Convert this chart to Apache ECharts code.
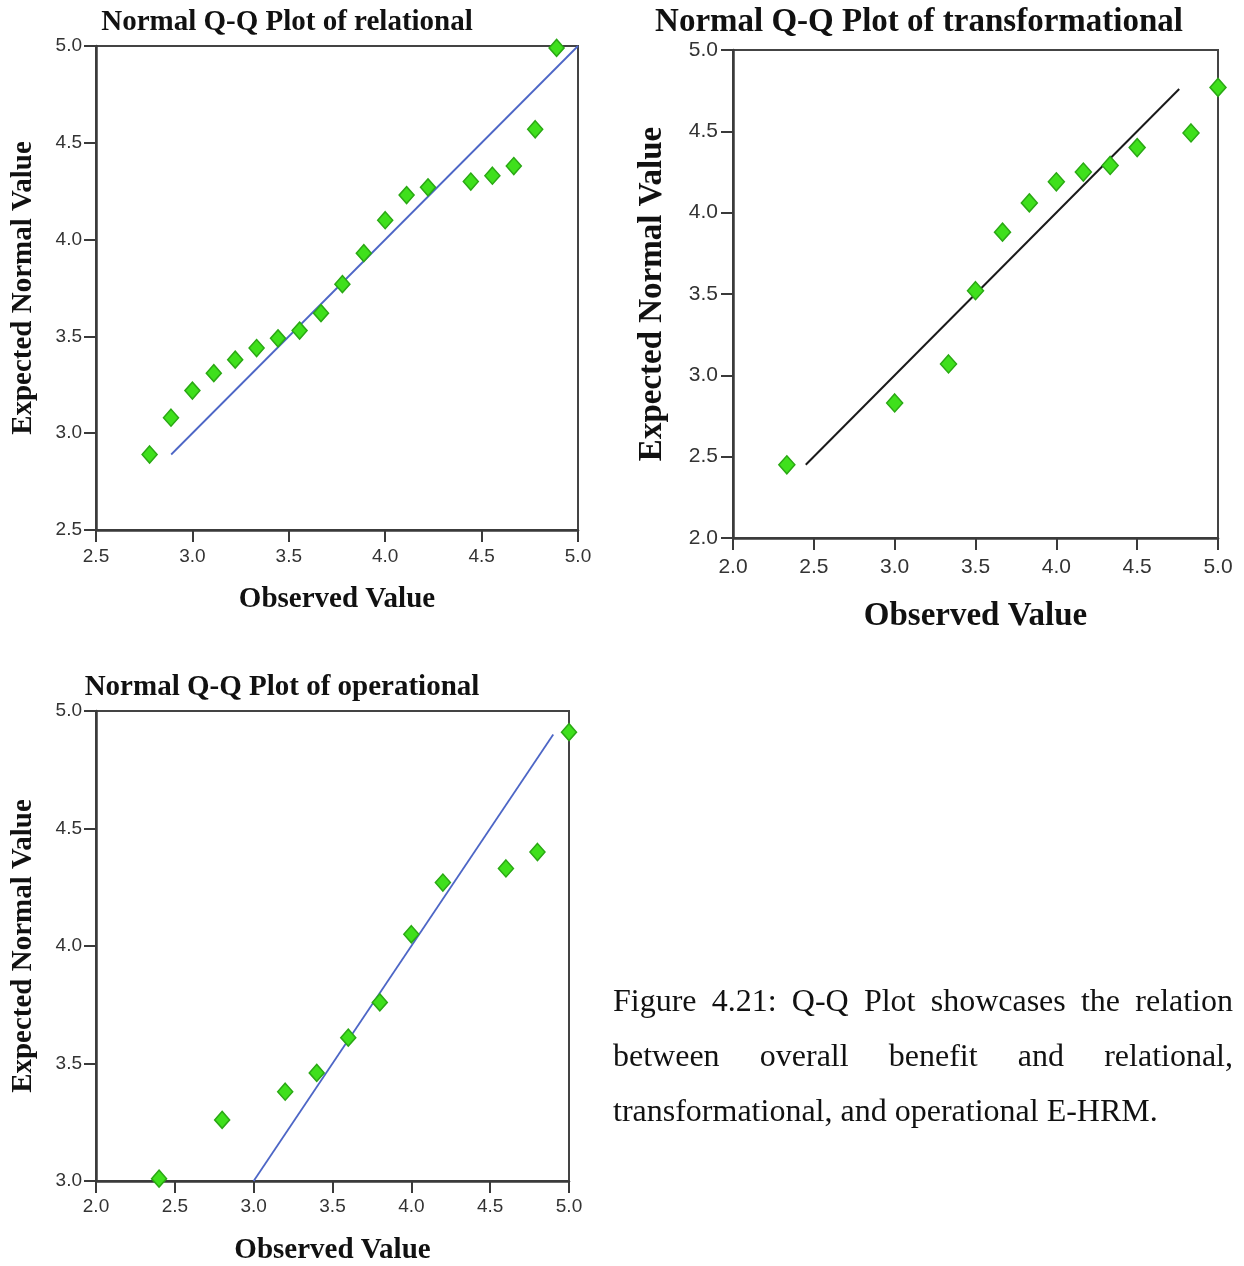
<!DOCTYPE html>
<html><head><meta charset="utf-8">
<script src="https://cdn.jsdelivr.net/npm/echarts/dist/echarts.min.js"></script>
<style>
html,body{margin:0;padding:0;background:#fff;}
#chart{position:absolute;left:0;top:0;width:1244px;height:1266px;}
#caption{position:absolute;left:613px;top:973px;width:620px;font-family:"Liberation Serif","Times New Roman",serif;font-size:32px;line-height:55px;color:#111;}
#caption div{text-align:justify;text-align-last:justify;white-space:nowrap;}
#caption div.last{text-align-last:left;}
</style>
</head><body>
<div id="chart"></div>
<div id="caption">
<div>Figure 4.21: Q-Q Plot showcases the relation</div>
<div>between overall benefit and relational,</div>
<div class="last">transformational, and operational E-HRM.</div>
</div>
<script>
// Relational
const relObserved = [2.778,2.889,3.0,3.111,3.222,3.333,3.444,3.556,3.667,3.778,3.889,4.0,4.111,4.222,4.444,4.556,4.667,4.778,4.889];
const relExpected = [2.89,3.08,3.22,3.31,3.38,3.44,3.49,3.53,3.62,3.77,3.93,4.10,4.23,4.27,4.30,4.33,4.38,4.57,4.99];
const relLineX = [2.89,5.0];
// Transformational
const transObserved = [2.333,3.0,3.333,3.5,3.667,3.833,4.0,4.167,4.333,4.5,4.833,5.0];
const transExpected = [2.45,2.83,3.07,3.52,3.88,4.06,4.19,4.25,4.29,4.40,4.49,4.77];
const transLineX = [2.45,4.76];
// Operational
const opObserved = [2.4,2.8,3.2,3.4,3.6,3.8,4.0,4.2,4.6,4.8,5.0];
const opExpected = [3.01,3.26,3.38,3.46,3.61,3.76,4.05,4.27,4.33,4.40,4.91];
const opLineX = [3.0,4.9];

const titles = ['Normal Q-Q Plot of relational','Normal Q-Q Plot of transformational','Normal Q-Q Plot of operational'];
const xName = 'Observed Value';
const yName = 'Expected Normal Value';

const serif = '"Liberation Serif","Times New Roman",serif';
const sans = '"Liberation Sans",Arial,sans-serif';

function pairs(xs, ys){ return xs.map((x,i)=>[x, ys[i]]); }
function lineOf(xs){ return xs.map(x=>[x,x]); }

const panels = [
  {grid:{left:96,top:46,width:482,height:484}, x:[2.5,5.0], y:[2.5,5.0], tf:29, tx:287, ty:8, nf:29, xg:55, yg:58, lf:19, lm:17, ym:14, ss:[15,17], lc:'#4d66c6', lw:1.8,
   obs:relObserved, exp:relExpected, lx:relLineX},
  {grid:{left:733,top:50,width:485,height:488}, x:[2.0,5.0], y:[2.0,5.0], tf:33, tx:919, ty:6, nf:33, xg:62, yg:64, lf:21, lm:19, ym:15, ss:[16,18], lc:'#1a1a1a', lw:2,
   obs:transObserved, exp:transExpected, lx:transLineX},
  {grid:{left:96,top:711,width:473,height:477}, x:[2.0,5.0], y:[3.0,5.0], tf:29, tx:282, ty:673, nf:29, xg:55, yg:58, lf:19, lm:16, ym:14, ss:[15,17], lc:'#4d66c6', lw:1.8,
   obs:opObserved, exp:opExpected, lx:opLineX}
];

const option = {
  backgroundColor:'#fff',
  animation:false,
  title: panels.map((p,i)=>({text:titles[i], left:p.tx, top:p.ty, textAlign:'center', padding:0,
    textStyle:{fontFamily:serif, fontWeight:'bold', fontSize:p.tf, color:'#111'}})),
  grid: panels.map(p=>Object.assign({show:true, borderColor:'#444', borderWidth:2, backgroundColor:'#fff', containLabel:false}, p.grid)),
  xAxis: panels.map((p,i)=>({type:'value', gridIndex:i, min:p.x[0], max:p.x[1], interval:0.5,
    name:xName, nameLocation:'middle', nameGap:p.xg,
    nameTextStyle:{fontFamily:serif, fontWeight:'bold', fontSize:p.nf, color:'#111'},
    axisLine:{show:true, onZero:false, lineStyle:{color:'#3a3a3a', width:2.5}},
    axisTick:{show:true, length:12, lineStyle:{color:'#3a3a3a', width:2}},
    axisLabel:{fontFamily:sans, fontSize:p.lf, color:'#333', margin:p.lm, formatter:v=>v.toFixed(1), showMinLabel:true, showMaxLabel:true},
    splitLine:{show:false}})),
  yAxis: panels.map((p,i)=>({type:'value', gridIndex:i, min:p.y[0], max:p.y[1], interval:0.5,
    name:yName, nameLocation:'middle', nameGap:p.yg,
    nameTextStyle:{fontFamily:serif, fontWeight:'bold', fontSize:p.nf, color:'#111'},
    axisLine:{show:true, onZero:false, lineStyle:{color:'#3a3a3a', width:2.5}},
    axisTick:{show:true, length:12, lineStyle:{color:'#3a3a3a', width:2}},
    axisLabel:{fontFamily:sans, fontSize:p.lf, color:'#333', margin:p.ym, formatter:v=>v.toFixed(1), showMinLabel:true, showMaxLabel:true},
    splitLine:{show:false}})),
  series: []
};
panels.forEach((p,i)=>{
  option.series.push({type:'line', xAxisIndex:i, yAxisIndex:i, data:lineOf(p.lx), showSymbol:false, symbol:'none',
    lineStyle:{color:p.lc, width:p.lw}, clip:true, z:2});
  option.series.push({type:'scatter', xAxisIndex:i, yAxisIndex:i, data:pairs(p.obs,p.exp), symbol:'diamond', symbolSize:p.ss,
    itemStyle:{color:'#3fe01c', borderColor:'#2aa814', borderWidth:1.5, opacity:1}, clip:false, z:3});
});

const chart = echarts.init(document.getElementById('chart'), null, {renderer:'canvas'});
chart.setOption(option);
</script>
</body></html>
